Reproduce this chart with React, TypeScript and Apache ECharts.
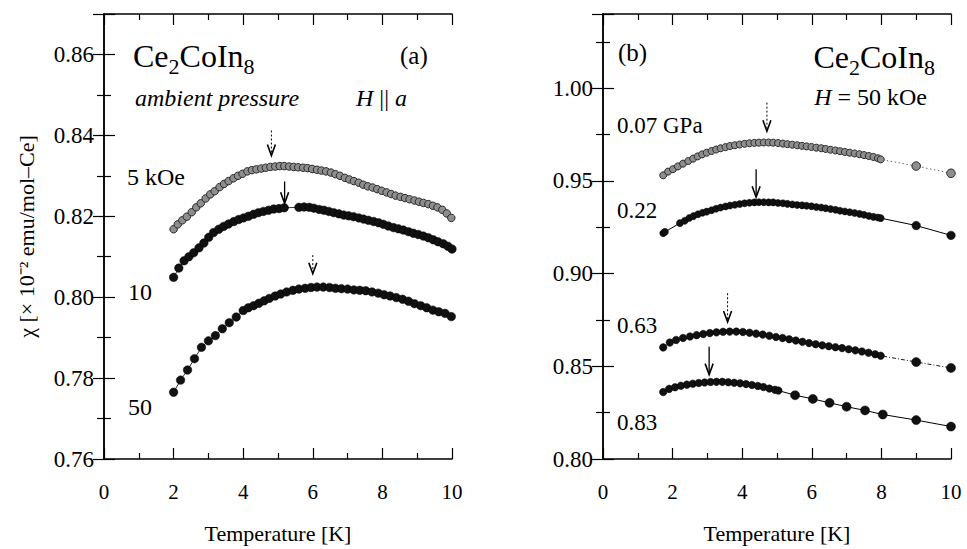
import React, { useEffect, useRef } from 'react';
import * as echarts from 'echarts';

const F = 'Liberation Serif, Times New Roman, serif';

// Panel (a): ambient pressure, H || a
const T_5kOe = [2.00, 2.12, 2.25, 2.38, 2.52, 2.65, 2.78, 2.92, 3.05, 3.18, 3.32, 3.45, 3.58, 3.72, 3.85, 3.98, 4.12, 4.25, 4.38, 4.52, 4.65, 4.78, 4.92, 5.05, 5.18, 5.32, 5.45, 5.58, 5.72, 5.85, 5.98, 6.12, 6.25, 6.38, 6.52, 6.65, 6.78, 6.92, 7.05, 7.18, 7.32, 7.45, 7.58, 7.72, 7.85, 7.98, 8.12, 8.25, 8.38, 8.52, 8.65, 8.78, 8.92, 9.05, 9.18, 9.32, 9.45, 9.58, 9.72, 9.85, 9.98];
const X_5kOe = [0.8168, 0.8180, 0.8190, 0.8199, 0.8210, 0.8222, 0.8232, 0.8244, 0.8254, 0.8262, 0.8272, 0.8280, 0.8287, 0.8294, 0.8300, 0.8305, 0.8311, 0.8314, 0.8316, 0.8318, 0.8320, 0.8322, 0.8323, 0.8324, 0.8324, 0.8323, 0.8322, 0.8321, 0.8320, 0.8319, 0.8317, 0.8315, 0.8313, 0.8311, 0.8308, 0.8304, 0.8300, 0.8295, 0.8291, 0.8287, 0.8283, 0.8278, 0.8274, 0.8271, 0.8267, 0.8263, 0.8259, 0.8255, 0.8251, 0.8248, 0.8245, 0.8242, 0.8239, 0.8236, 0.8233, 0.8230, 0.8226, 0.8222, 0.8216, 0.8207, 0.8196];

const T_10kOe = [2.00, 2.15, 2.30, 2.44, 2.58, 2.73, 2.87, 3.01, 3.15, 3.30, 3.44, 3.58, 3.73, 3.87, 4.01, 4.15, 4.30, 4.44, 4.58, 4.73, 4.88, 5.03, 5.18, 5.60, 5.75, 5.90, 6.03, 6.18, 6.32, 6.46, 6.60, 6.75, 6.89, 7.03, 7.17, 7.32, 7.46, 7.60, 7.75, 7.89, 8.03, 8.17, 8.32, 8.46, 8.60, 8.75, 8.89, 9.03, 9.18, 9.32, 9.46, 9.60, 9.75, 9.88, 10.0];
const X_10kOe = [0.8049, 0.8072, 0.8090, 0.8100, 0.8110, 0.8122, 0.8134, 0.8148, 0.8160, 0.8168, 0.8175, 0.8181, 0.8187, 0.8192, 0.8196, 0.8200, 0.8205, 0.8209, 0.8212, 0.8215, 0.8218, 0.8219, 0.8221, 0.8222, 0.8223, 0.8222, 0.8220, 0.8217, 0.8215, 0.8212, 0.8209, 0.8206, 0.8203, 0.8201, 0.8199, 0.8196, 0.8193, 0.8190, 0.8187, 0.8184, 0.8180, 0.8176, 0.8172, 0.8169, 0.8166, 0.8162, 0.8158, 0.8155, 0.8151, 0.8147, 0.8142, 0.8137, 0.8132, 0.8126, 0.8119];

const T_50kOe = [2.00, 2.20, 2.40, 2.60, 2.80, 3.00, 3.20, 3.40, 3.60, 3.80, 4.00, 4.15, 4.30, 4.45, 4.60, 4.75, 4.92, 5.08, 5.25, 5.43, 5.60, 5.78, 5.95, 6.12, 6.30, 6.48, 6.65, 6.82, 7.00, 7.18, 7.35, 7.52, 7.70, 7.88, 8.05, 8.22, 8.40, 8.58, 8.75, 8.92, 9.10, 9.27, 9.45, 9.62, 9.80, 9.98];
const X_50kOe = [0.7765, 0.7795, 0.7820, 0.7848, 0.7876, 0.7892, 0.7905, 0.7922, 0.7937, 0.7951, 0.7967, 0.7974, 0.7979, 0.7985, 0.7991, 0.7997, 0.8003, 0.8008, 0.8013, 0.8017, 0.8020, 0.8022, 0.8024, 0.8025, 0.8025, 0.8024, 0.8022, 0.8021, 0.8020, 0.8018, 0.8017, 0.8016, 0.8013, 0.8010, 0.8006, 0.8003, 0.7999, 0.7995, 0.7990, 0.7984, 0.7979, 0.7974, 0.7968, 0.7964, 0.7960, 0.7952];

// Panel (b): H = 50 kOe, pressures
const T_007 = [1.73, 1.87, 2.01, 2.15, 2.30, 2.45, 2.59, 2.72, 2.85, 2.98, 3.12, 3.25, 3.38, 3.52, 3.65, 3.79, 3.93, 4.07, 4.21, 4.35, 4.48, 4.62, 4.76, 4.89, 5.03, 5.17, 5.30, 5.44, 5.58, 5.72, 5.85, 5.99, 6.13, 6.27, 6.40, 6.54, 6.68, 6.81, 6.95, 7.09, 7.23, 7.37, 7.50, 7.64, 7.77, 7.90, 7.98, 9.00, 10.0];
const X_007 = [0.9530, 0.9550, 0.9563, 0.9578, 0.9593, 0.9607, 0.9620, 0.9632, 0.9643, 0.9652, 0.9661, 0.9669, 0.9676, 0.9682, 0.9688, 0.9692, 0.9696, 0.9700, 0.9703, 0.9705, 0.9706, 0.9707, 0.9707, 0.9706, 0.9704, 0.9701, 0.9698, 0.9695, 0.9692, 0.9689, 0.9686, 0.9683, 0.9679, 0.9676, 0.9672, 0.9668, 0.9664, 0.9660, 0.9656, 0.9652, 0.9648, 0.9644, 0.9639, 0.9634, 0.9629, 0.9622, 0.9616, 0.9580, 0.9541];

const T_022 = [1.73, 1.78, 2.21, 2.35, 2.48, 2.60, 2.73, 2.86, 2.98, 3.12, 3.25, 3.38, 3.52, 3.65, 3.79, 3.93, 4.07, 4.21, 4.35, 4.48, 4.62, 4.76, 4.89, 5.03, 5.17, 5.30, 5.44, 5.58, 5.72, 5.85, 5.99, 6.13, 6.27, 6.40, 6.54, 6.68, 6.81, 6.95, 7.09, 7.23, 7.37, 7.50, 7.64, 7.77, 7.90, 7.98, 9.00, 10.0];
const X_022 = [0.9218, 0.9225, 0.9272, 0.9285, 0.9300, 0.9310, 0.9320, 0.9328, 0.9334, 0.9342, 0.9350, 0.9356, 0.9362, 0.9367, 0.9371, 0.9375, 0.9379, 0.9382, 0.9384, 0.9385, 0.9385, 0.9384, 0.9384, 0.9381, 0.9379, 0.9376, 0.9373, 0.9370, 0.9368, 0.9366, 0.9363, 0.9359, 0.9356, 0.9352, 0.9348, 0.9344, 0.9339, 0.9335, 0.9331, 0.9327, 0.9322, 0.9317, 0.9311, 0.9306, 0.9302, 0.9299, 0.9259, 0.9206];

const T_063 = [1.73, 1.92, 2.10, 2.30, 2.50, 2.69, 2.88, 3.07, 3.26, 3.45, 3.64, 3.83, 4.02, 4.21, 4.40, 4.59, 4.78, 4.97, 5.16, 5.35, 5.54, 5.73, 5.92, 6.11, 6.30, 6.49, 6.68, 6.87, 7.06, 7.25, 7.44, 7.63, 7.82, 7.98, 9.00, 10.0];
const X_063 = [0.8602, 0.8628, 0.8642, 0.8653, 0.8661, 0.8668, 0.8674, 0.8679, 0.8683, 0.8686, 0.8687, 0.8687, 0.8685, 0.8681, 0.8676, 0.8671, 0.8665, 0.8658, 0.8652, 0.8646, 0.8639, 0.8632, 0.8625, 0.8619, 0.8613, 0.8608, 0.8603, 0.8598, 0.8592, 0.8586, 0.8580, 0.8573, 0.8565, 0.8557, 0.8523, 0.8491];

const T_083 = [1.73, 1.90, 2.07, 2.24, 2.41, 2.58, 2.75, 2.92, 3.09, 3.26, 3.43, 3.60, 3.77, 3.94, 4.11, 4.28, 4.45, 4.61, 4.78, 4.94, 5.04, 5.52, 6.03, 6.51, 7.00, 7.53, 8.04, 9.00, 10.0];
const X_083 = [0.8361, 0.8378, 0.8387, 0.8395, 0.8401, 0.8406, 0.8410, 0.8413, 0.8415, 0.8416, 0.8416, 0.8414, 0.8411, 0.8408, 0.8404, 0.8399, 0.8394, 0.8388, 0.8380, 0.8373, 0.8369, 0.8344, 0.8324, 0.8303, 0.8282, 0.8262, 0.8240, 0.8210, 0.8175];

// Arrows: [T, chi at shaft top, chi at tip, dotted(1)/solid(0)]
const ARROWS_A = [[4.81, 0.8412, 0.8350, 1], [5.19, 0.8286, 0.8232, 0], [6.0, 0.8104, 0.8058, 1]];
const ARROWS_B = [[4.71, 0.9922, 0.9768, 1], [4.40, 0.9563, 0.9412, 0], [3.58, 0.8894, 0.8739, 1], [3.05, 0.8605, 0.8455, 0]];

const X_TICK_LABELS = ['0', '2', '4', '6', '8', '10'];

const zip = (t: number[], v: number[]) => t.map((x, i) => [x, v[i]]);

type Piece = { t: string; s: number; i?: boolean; dy?: number };

let measureCtx: CanvasRenderingContext2D | null = null;
const measure = (p: Piece) => {
  if (!measureCtx) measureCtx = document.createElement('canvas').getContext('2d');
  if (!measureCtx) return p.t.length * p.s * 0.5;
  measureCtx.font = `${p.i ? 'italic ' : ''}${p.s}px ${F}`;
  return measureCtx.measureText(p.t).width;
};

const run = (x: number, y: number, pieces: Piece[], align: 'left' | 'right' = 'left') => {
  const widths = pieces.map(measure);
  const total = widths.reduce((a, b) => a + b, 0);
  let cx = align === 'right' ? x - total : x;
  return pieces.map((p, k) => {
    const el = {
      type: 'text', x: cx, y: y + (p.dy || 0), z: 10,
      style: {
        text: p.t, fontFamily: F, fontSize: p.s, fontStyle: p.i ? 'italic' : 'normal',
        fill: '#000', textVerticalAlign: 'middle', textAlign: 'left',
      },
    };
    cx += widths[k];
    return el;
  });
};

export default function App() {
  const ref = useRef<HTMLDivElement>(null);
  useEffect(() => {
    if (!ref.current) return;
    const chart = echarts.init(ref.current, null, { renderer: 'svg' });

    const lab = { fontFamily: F, fontSize: 21, color: '#000' };
    const axisLine = { show: true, lineStyle: { color: '#000', width: 1.5 } };
    const tick = { show: true, inside: true, length: 11, lineStyle: { color: '#000', width: 1.2 } };
    const minor = { show: true, splitNumber: 2, length: 6, lineStyle: { color: '#000', width: 1.2 } };

    const xAxes = (gridIndex: number) => [
      {
        gridIndex, type: 'value', min: 0, max: 10, interval: 2, position: 'bottom',
        axisLine, splitLine: { show: false }, axisTick: tick, minorTick: minor,
        axisLabel: { ...lab, margin: 22, formatter: (v: number) => X_TICK_LABELS[Math.round(v / 2)] ?? '' },
        name: 'Temperature [K]', nameLocation: 'middle', nameGap: 63,
        nameTextStyle: { fontFamily: F, fontSize: 22, color: '#000' },
      },
      {
        gridIndex, type: 'value', min: 0, max: 10, interval: 2, position: 'top',
        axisLine, splitLine: { show: false }, axisTick: tick, minorTick: minor,
        axisLabel: { show: false },
      },
    ];

    const yAxes = (gridIndex: number, min: number, max: number, interval: number, name?: string) => [
      {
        gridIndex, type: 'value', min, max, interval, position: 'left',
        axisLine, splitLine: { show: false }, axisTick: tick, minorTick: { ...minor, length: 7 },
        axisLabel: { ...lab, fontSize: 23, margin: 10, showMaxLabel: false, formatter: (v: number) => v.toFixed(2) },
        name: name || '', nameLocation: 'middle', nameGap: 67, nameRotate: 90,
        nameTextStyle: { fontFamily: F, fontSize: 22, color: '#000' },
      },
      {
        gridIndex, type: 'value', min, max, interval, position: 'right',
        axisLine, splitLine: { show: false }, axisTick: tick, minorTick: { ...minor, length: 7 },
        axisLabel: { show: false },
      },
    ];

    const dots = (
      data: number[][], xi: number, gray: boolean, size: number, bigAfter: number,
      line: { color: string; width: number; type: any }
    ) => ({
      type: 'line', xAxisIndex: xi, yAxisIndex: xi, data, clip: false,
      symbol: 'circle',
      symbolSize: (v: number[]) => (v[0] > bigAfter ? size + 1.5 : size),
      itemStyle: gray
        ? { color: '#8e8e8e', borderColor: '#2a2a2a', borderWidth: 1 }
        : { color: '#111', borderColor: '#000', borderWidth: 0.5 },
      lineStyle: line,
      z: 3,
    });

    const arrows = (xi: number, data: number[][]) => ({
      type: 'custom', xAxisIndex: xi, yAxisIndex: xi, data,
      encode: { x: 0, y: [1, 2] },
      z: 5,
      renderItem: (params: any, api: any) => {
        const p1 = api.coord([api.value(0), api.value(1)]);
        const p2 = api.coord([api.value(0), api.value(2)]);
        const dotted = api.value(3) === 1;
        return {
          type: 'group',
          children: [
            {
              type: 'line',
              shape: { x1: p1[0], y1: p1[1], x2: p2[0], y2: p2[1] - 2 },
              style: { stroke: '#000', lineWidth: dotted ? 1 : 1.3, lineDash: dotted ? [2, 2] : null },
            },
            {
              type: 'polyline',
              shape: { points: [[p2[0] - 4, p2[1] - 11], [p2[0], p2[1]], [p2[0] + 4, p2[1] - 11]] },
              style: { stroke: '#000', lineWidth: 1.6, fill: 'none' },
            },
          ],
        };
      },
    });

    const formula = (x: number, y: number, align: 'left' | 'right') =>
      run(x, y, [
        { t: 'Ce', s: 32 },
        { t: '2', s: 22, dy: 10 },
        { t: 'CoIn', s: 32 },
        { t: '8', s: 22, dy: 10 },
      ], align);

    chart.setOption({
      animation: false,
      backgroundColor: '#fff',
      grid: [
        { left: 104, right: 515, top: 14, bottom: 86 },
        { left: 603, right: 16, top: 14, bottom: 86 },
      ],
      xAxis: [...xAxes(0), ...xAxes(1)],
      yAxis: [
        ...yAxes(0, 0.76, 0.87, 0.02, 'χ [× 10⁻² emu/mol–Ce]'),
        ...yAxes(1, 0.80, 1.04, 0.05),
      ],
      series: [
        dots(zip(T_5kOe, X_5kOe), 0, true, 7.5, 99, { color: '#555', width: 0.8, type: 'solid' }),
        dots(zip(T_10kOe, X_10kOe), 0, false, 8.5, 99, { color: '#000', width: 0.8, type: 'solid' }),
        dots(zip(T_50kOe, X_50kOe), 0, false, 8.5, 99, { color: '#000', width: 0.8, type: 'solid' }),
        dots(zip(T_007, X_007), 2, true, 7, 8.5, { color: '#666', width: 1, type: [1.5, 2.5] }),
        dots(zip(T_022, X_022), 2, false, 7, 8.5, { color: '#000', width: 1, type: 'solid' }),
        dots(zip(T_063, X_063), 2, false, 7.5, 8.5, { color: '#000', width: 0.9, type: [4, 2, 1, 2] }),
        dots(zip(T_083, X_083), 2, false, 7.5, 5.3, { color: '#000', width: 1, type: 'solid' }),
        arrows(0, ARROWS_A),
        arrows(2, ARROWS_B),
      ],
      graphic: [
        ...formula(133, 56, 'left'),
        ...run(400, 55, [{ t: '(a)', s: 25 }]),
        ...run(135, 98, [{ t: 'ambient pressure', s: 24, i: true }]),
        ...run(356, 98, [{ t: 'H', s: 24, i: true }, { t: ' || ', s: 24 }, { t: 'a', s: 24, i: true }]),
        ...run(127, 177, [{ t: '5 kOe', s: 24 }]),
        ...run(128, 292, [{ t: '10', s: 24 }]),
        ...run(128, 407, [{ t: '50', s: 24 }]),

        ...run(618, 52, [{ t: '(b)', s: 25 }]),
        ...formula(935, 57, 'right'),
        ...run(927, 97, [{ t: 'H', s: 24, i: true }, { t: ' = 50 kOe', s: 24 }], 'right'),
        ...run(617, 125, [{ t: '0.07 GPa', s: 23 }]),
        ...run(617, 210, [{ t: '0.22', s: 23 }]),
        ...run(617, 325, [{ t: '0.63', s: 23 }]),
        ...run(617, 422, [{ t: '0.83', s: 23 }]),
      ],
    });

    return () => chart.dispose();
  }, []);

  return <div ref={ref} style={{ position: 'fixed', left: 0, top: 0, width: 967, height: 549, background: '#fff' }} />;
}
